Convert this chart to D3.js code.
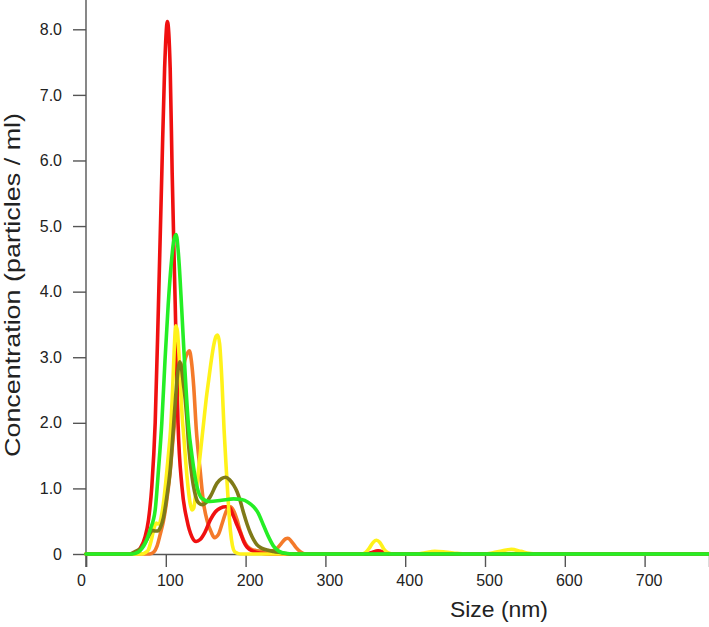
<!DOCTYPE html>
<html>
<head>
<meta charset="utf-8">
<script src="https://cdn.jsdelivr.net/npm/d3@7"></script>
<style>
  html, body { margin: 0; padding: 0; background: #fff; }
  svg { display: block; }
  text { font-family: "Liberation Sans", Arial, sans-serif; }
</style>
</head>
<body>
<svg id="chart" width="709" height="627"></svg>
<script>
// ---- data (size in nm, concentration) ----
const xTicks = [0, 100, 200, 300, 400, 500, 600, 700];
const yTicks = [0, 1, 2, 3, 4, 5, 6, 7, 8];
const yTickLabels = ["0", "1.0", "2.0", "3.0", "4.0", "5.0", "6.0", "7.0", "8.0"];

const orangeData = [[0,0],[80,0],[85,0.03],[89,0.12],[93,0.3],[97,0.5],[101,0.8],[105,1.2],[109,1.75],[113,2.25],[117,2.6],[121,2.8],[125,3.0],[129.5,3.1],[132,2.95],[135,2.55],[138.2,1.9],[143,1.28],[147.4,0.77],[152,0.5],[157,0.33],[161,0.25],[166,0.3],[171,0.48],[176,0.66],[181,0.72],[185,0.66],[189.3,0.52],[193,0.36],[197.6,0.21],[202,0.12],[206,0.08],[214,0.05],[228,0.04],[237,0.06],[244,0.15],[250,0.23],[253,0.24],[257,0.2],[263,0.1],[269,0.03],[275,0],[780,0]];

const redData = [[0,0],[55,0],[62,0.02],[68,0.09],[74,0.26],[78.3,0.52],[82.5,1.03],[86.7,2.0],[90.8,3.8],[95,5.8],[98.5,7.4],[102,8.12],[105.5,7.4],[108,5.8],[111.8,3.8],[115.3,2.0],[120.2,1.03],[126.5,0.52],[132.8,0.26],[138,0.19],[143,0.22],[149,0.33],[155.8,0.52],[162,0.64],[168.3,0.7],[175,0.72],[179,0.72],[185,0.57],[189,0.45],[193.5,0.32],[198,0.18],[202,0.1],[210,0.04],[220,0.01],[230,0],[350,0],[357,0.02],[366,0.05],[375,0.02],[382,0],[780,0]];

const yellowData = [[0,0],[70,0],[74,0.02],[78,0.06],[82,0.22],[85,0.38],[88,0.47],[90,0.46],[92,0.46],[94,0.55],[97,0.77],[100,1.1],[103.4,1.53],[106,1.9],[108.5,2.5],[110.5,3.1],[112.5,3.48],[114.5,3.4],[116.5,3.05],[118.5,2.6],[120.5,2.1],[122.5,1.8],[125,1.4],[128.5,0.95],[131,0.74],[133,0.67],[135,0.7],[137,0.87],[139,1.05],[141,1.28],[144,1.62],[147.4,2.0],[150.5,2.35],[153.7,2.65],[157,2.95],[160,3.18],[163,3.32],[165,3.34],[167.5,3.2],[170.5,2.6],[173,1.9],[176,1.25],[178.5,0.75],[181,0.35],[183.5,0.13],[186,0.04],[190,0.01],[195,0],[345,0],[350,0.02],[355,0.09],[360,0.18],[364,0.21],[368,0.18],[373,0.08],[378,0.02],[384,0],[415,0],[425,0.02],[437,0.04],[450,0.03],[465,0.01],[475,0],[500,0],[510,0.02],[522,0.05],[533,0.07],[545,0.04],[555,0.01],[565,0],[780,0]];

const oliveData = [[0,0],[55,0],[62,0.04],[68,0.08],[72,0.14],[76.3,0.22],[80,0.31],[83,0.36],[87,0.35],[90,0.35],[93,0.4],[97,0.55],[101,0.85],[105.5,1.28],[109.7,1.95],[113,2.5],[115.5,2.82],[117.5,2.93],[119.5,2.85],[122,2.6],[124.4,2.35],[126.5,2.04],[129,1.6],[132.8,1.18],[136,0.95],[139,0.82],[142,0.77],[145.4,0.75],[150,0.78],[156,0.88],[164.2,1.08],[170,1.15],[175,1.17],[180,1.13],[185,1.05],[189.3,0.95],[193.5,0.8],[197.6,0.62],[202,0.45],[206,0.32],[210,0.22],[214.4,0.14],[220,0.09],[227,0.06],[235,0.04],[245,0.02],[255,0],[780,0]];

const greenData = [[0,0],[58,0],[62,0.01],[65.7,0.03],[70,0.08],[74.1,0.16],[80.4,0.37],[86.7,0.67],[90.8,1.28],[95,2.0],[99,2.95],[103,3.8],[107,4.45],[110,4.78],[113,4.87],[116,4.55],[120,3.72],[124,2.8],[128.5,1.95],[132.8,1.5],[139,1.03],[145,0.85],[155,0.8],[170,0.82],[185,0.84],[195,0.83],[203,0.79],[210,0.72],[216,0.62],[222,0.45],[228,0.28],[235,0.12],[242,0.04],[250,0.01],[260,0],[780,0]];

const seriesList = [
  { data: orangeData, color: "#f47a2a" },
  { data: redData,    color: "#f01010" },
  { data: yellowData, color: "#fff21a" },
  { data: oliveData,  color: "#7f7a18" },
  { data: greenData,  color: "#25ee25" }
];

// ---- layout ----
const svg = d3.select("#chart");
const x = d3.scaleLinear().domain([0, 780.7]).range([86, 709]);
const y = d3.scaleLinear().domain([0, 8]).range([554, 29.3]);
const axisColor = "#555";

// Y axis
const yAxis = svg.append("g").attr("transform", "translate(86,0)")
  .call(d3.axisLeft(y).tickValues(yTicks).tickSize(13).tickPadding(11)
    .tickFormat((d, i) => yTickLabels[i]));
yAxis.select(".domain").remove();
yAxis.selectAll(".tick line").attr("stroke", axisColor).attr("stroke-width", 1.4);
yAxis.selectAll(".tick text").attr("fill", "#222").style("font-size", "16px");
svg.append("line").attr("x1", 86).attr("x2", 86).attr("y1", 0).attr("y2", 567)
  .attr("stroke", axisColor).attr("stroke-width", 1.4);

// X axis
const xAxis = svg.append("g").attr("transform", `translate(0,${y(0)})`)
  .call(d3.axisBottom(x).tickValues(xTicks).tickSize(13).tickPadding(8)
    .tickFormat(d3.format("d")));
xAxis.select(".domain").attr("stroke", axisColor).attr("stroke-width", 1.4);
xAxis.selectAll(".tick line").attr("stroke", axisColor).attr("stroke-width", 1.4);
xAxis.selectAll(".tick text").attr("fill", "#222").style("font-size", "16px")
  .attr("dx", d => d === 0 ? -5 : 4);

// Axis titles
svg.append("text").attr("x", 499).attr("y", 617).attr("text-anchor", "middle")
  .attr("fill", "#222").style("font-size", "22px")
  .attr("textLength", 98).attr("lengthAdjust", "spacingAndGlyphs")
  .text("Size (nm)");
svg.append("text").attr("transform", "translate(20,285) rotate(-90)")
  .attr("text-anchor", "middle").attr("fill", "#222").style("font-size", "22px")
  .attr("textLength", 344).attr("lengthAdjust", "spacingAndGlyphs")
  .text("Concentration (particles / ml)");

// Lines
const line = d3.line().x(d => x(d[0])).y(d => y(d[1])).curve(d3.curveMonotoneX);
svg.append("g").selectAll("path").data(seriesList).join("path")
  .attr("d", s => line(s.data))
  .attr("fill", "none")
  .attr("stroke", s => s.color)
  .attr("stroke-width", 3.6)
  .attr("stroke-linejoin", "round")
  .attr("stroke-linecap", "round");
</script>
</body>
</html>
